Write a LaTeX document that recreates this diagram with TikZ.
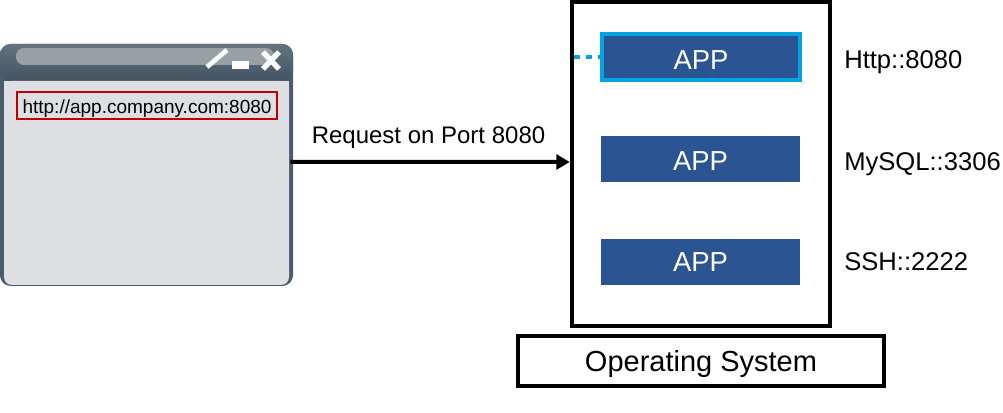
\documentclass[tikz,border=0pt]{standalone}
\usepackage{fontspec}
\setmainfont{Liberation Sans}
\usepackage{tikz}
\usetikzlibrary{positioning,arrows.meta}
\definecolor{appblue}{HTML}{2A5592}
\definecolor{appcyan}{HTML}{00A4E0}
\definecolor{winframe}{HTML}{4A5C6C}
\definecolor{wintop}{HTML}{64747F}
\definecolor{winbar}{HTML}{425363}
\definecolor{winbody}{HTML}{DEDFE3}
\definecolor{winpill}{HTML}{98A0A6}
\definecolor{urlred}{HTML}{C00000}
\tikzset{
  appbox/.style={fill=appblue,text=white,inner sep=0pt,text depth=0pt,minimum width=149.25pt,minimum height=34.5pt,font=\fontsize{20.6pt}{24pt}\selectfont},
  portlabel/.style={anchor=base west,inner sep=0pt,font=\fontsize{19.2pt}{23pt}\selectfont},
  blackbox/.style={draw=black,line width=3pt,inner sep=0pt}
}
\begin{document}
\begin{tikzpicture}[x=0.75pt,y=-0.75pt]
\useasboundingbox (0,0) rectangle (1003,413);
\node [fill=winframe,rounded corners=8pt,inner sep=0pt,minimum width=219.75pt,minimum height=181.5pt] (browser) at (146.5,165) {};
\shade [top color=wintop,bottom color=winbar,rounded corners=8pt] (0,44) rectangle (293,81);
\fill [winbody,rounded corners=6pt] (4,81) rectangle (289,285);
\fill [winbody] (4,81) rectangle (289,120);
\fill [winpill,rounded corners=6pt] (16,48) rectangle (274,65);
\draw [white,line width=3.5pt] (207,67) -- (227,50);
\fill [white] (232,61) rectangle (249,69);
\draw [white,line width=4pt] (263,52) -- (279,69);
\draw [white,line width=4pt] (279,52) -- (263,69);
\node [draw=urlred,line width=1.5pt,inner sep=0pt,text height=12pt,text depth=0pt,minimum width=195pt,minimum height=20.25pt,font=\fontsize{14.25pt}{17pt}\selectfont] (url) at (147,106) {http://app.company.com:8080};
\node [blackbox,minimum width=193.5pt,minimum height=243pt] (host) at (700.75,164.25) {};
\node [blackbox,text height=16pt,text depth=0pt,minimum width=274.5pt,minimum height=37.5pt,font=\fontsize{21.75pt}{26pt}\selectfont] (os) at (701,361) {Operating System};
\node [appbox,draw=appcyan,line width=3pt,text height=19.5pt,minimum width=148.5pt] (httpapp) at (701,57) {APP};
\node [appbox,text height=16.8pt] (mysqlapp) at (700.5,159.5) {APP};
\node [appbox,text height=14.25pt] (sshapp) at (700.5,262.2) {APP};
\node [portlabel] (httplabel) at (844,68.3) {Http::8080};
\node [portlabel] (mysqllabel) at (844,170.7) {MySQL::3306};
\node [portlabel] (sshlabel) at (844,270.7) {SSH::2222};
\node [anchor=base,inner sep=0pt,font=\fontsize{18pt}{21pt}\selectfont] (request) at (428.5,144) {Request on Port 8080};
\draw [appcyan,line width=3pt,dash pattern=on 4.5pt off 4.5pt] ([xshift=3pt]host.west |- httpapp.west) -- (httpapp.west);
\draw [black,line width=3pt,-{Triangle[length=10pt,width=11pt]}] ([xshift=-2.25pt,yshift=2.25pt]browser.east) -- ([yshift=1.69pt]host.west);
\end{tikzpicture}
\end{document}
